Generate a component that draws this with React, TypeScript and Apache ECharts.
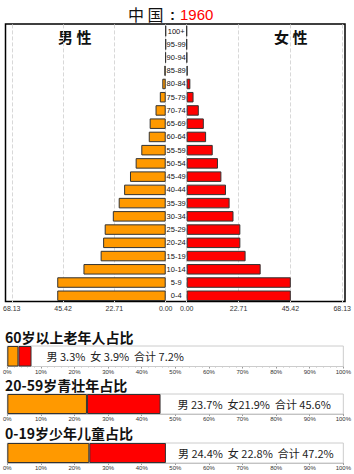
import React, { useEffect, useRef } from "react";
import * as echarts from "echarts";

const ages = ["0-4","5-9","10-14","15-19","20-24","25-29","30-34","35-39","40-44","45-49","50-54","55-59","60-64","65-69","70-74","75-79","80-84","85-89","90-94","95-99","100+"];
const male = [48.0,48.0,36.4,28.8,27.7,27.0,23.4,20.8,18.4,15.8,13.3,10.8,7.5,7.1,4.5,2.6,1.5,0.6,0.1,0,0];
const female = [45.6,45.6,32.4,25.8,23.5,23.5,20.5,18.8,17.2,15.2,13.7,11.4,8.5,7.5,5.3,3.0,1.6,0.4,0.1,0,0];
const axisMax = 68.13;
const axisStep = 22.71;

const groupTitles = ["60岁以上老年人占比", "20-59岁青壮年占比", "0-19岁少年儿童占比"];
const malePct = [3.3, 23.7, 24.4];
const femalePct = [3.9, 21.9, 22.8];
const pctLabels = ["男 3.3%  女 3.9%  合计 7.2%", "男 23.7%  女21.9%  合计 45.6%", "男 24.4%  女 22.8%  合计 47.2%"];

const ORANGE = "#FF9900";
const RED = "#FF0000";
const CJK = "'Noto Sans CJK SC', sans-serif";
const LAT = "'Liberation Sans', Arial, sans-serif";

export default function App() {
  const ref = useRef<HTMLDivElement>(null);
  useEffect(() => {
    const chart = echarts.init(ref.current!, null, { renderer: "svg" });
    const pyrTop = 24.4;
    const pyrH = 278;
    const bottomTops = [346, 394, 443];
    const bottomH = [20.5, 20, 20];

    const grids: any[] = [
      { left: 8.5, width: 157.2, top: pyrTop, height: pyrH },
      { left: 186.7, width: 157.3, top: pyrTop, height: pyrH },
    ];
    bottomTops.forEach((t, i) => grids.push({ left: 7, right: 10, top: t, height: bottomH[i] }));

    const xAxes: any[] = [0, 1].map((i) => ({
      gridIndex: i,
      type: "value",
      inverse: i === 0,
      min: 0,
      max: axisMax,
      interval: axisStep,
      axisLine: { show: false },
      axisTick: { show: false },
      axisLabel: {
        formatter: (v: number) => v.toFixed(2),
        fontSize: 7,
        color: "#333",
        margin: 3,
        fontFamily: LAT,
      },
      splitLine: { show: true, lineStyle: { color: "#d8d8d8", type: "dashed" } },
    }));
    bottomTops.forEach((_, i) =>
      xAxes.push({
        gridIndex: i + 2,
        type: "value",
        min: 0,
        max: 100,
        interval: 10,
        axisLine: { show: true, lineStyle: { color: "#bbb" } },
        axisTick: { show: true, length: 2, lineStyle: { color: "#999" } },
        minorTick: { show: true, splitNumber: 5, length: 1, lineStyle: { color: "#bbb" } },
        axisLabel: { formatter: "{value}%", fontSize: 6, color: "#333", margin: 2, fontFamily: LAT },
        splitLine: { show: false },
      })
    );

    const yAxes: any[] = [
      { gridIndex: 0, type: "category", data: ages, axisLine: { show: false }, axisTick: { show: false }, axisLabel: { show: false } },
      {
        gridIndex: 1,
        type: "category",
        data: ages,
        position: "left",
        axisLine: { show: false },
        axisTick: { show: false },
        axisLabel: { show: true, align: "center", margin: 10.5, fontSize: 7.5, color: "#111", fontFamily: LAT },
      },
    ];
    bottomTops.forEach((_, i) =>
      yAxes.push({ gridIndex: i + 2, type: "category", data: ["x"], show: false })
    );

    const series: any[] = [
      {
        type: "bar",
        xAxisIndex: 0,
        yAxisIndex: 0,
        data: male,
        barWidth: 10.5,
        itemStyle: { color: ORANGE, borderColor: "#333", borderWidth: 1 },
      },
      {
        type: "bar",
        xAxisIndex: 1,
        yAxisIndex: 1,
        data: female,
        barWidth: 10.5,
        itemStyle: { color: RED, borderColor: "#333", borderWidth: 1 },
      },
    ];
    bottomTops.forEach((_, i) => {
      series.push({
        type: "bar",
        xAxisIndex: i + 2,
        yAxisIndex: i + 2,
        stack: "g" + i,
        data: [malePct[i]],
        barWidth: "100%",
        showBackground: true,
        backgroundStyle: { color: "#fff", borderColor: "#ccc", borderWidth: 1 },
        itemStyle: { color: ORANGE, borderColor: "#333", borderWidth: 1 },
      });
      series.push({
        type: "bar",
        xAxisIndex: i + 2,
        yAxisIndex: i + 2,
        stack: "g" + i,
        data: [femalePct[i]],
        barWidth: "100%",
        itemStyle: { color: RED, borderColor: "#333", borderWidth: 1 },
        label: {
          show: true,
          position: "right",
          distance: i === 0 ? 15 : i === 1 ? 17 : 12,
          formatter: () => pctLabels[i],
          fontSize: 11,
          color: "#222",
          fontFamily: CJK,
        },
      });
    });

    const graphic: any[] = [
      {
        type: "rect",
        shape: { x: 5.5, y: 24, width: 339.5, height: 277.5 },
        style: { fill: "none", stroke: "#000", lineWidth: 1.5 },
        silent: true,
      },
      { type: "text", x: 128, y: 14, style: { text: "中 国", font: `16px ${CJK}`, fill: "#111", verticalAlign: "middle" } },
      { type: "text", x: 170, y: 14, style: { text: ":", font: `bold 15px ${LAT}`, fill: "#111", verticalAlign: "middle" } },
      { type: "text", x: 180, y: 14, style: { text: "1960", font: `15px ${LAT}`, fill: RED, verticalAlign: "middle" } },
      { type: "text", x: 58, y: 36, style: { text: "男 性", font: `bold 15px ${CJK}`, fill: "#111", verticalAlign: "middle" } },
      { type: "text", x: 274, y: 36, style: { text: "女 性", font: `bold 15px ${CJK}`, fill: "#111", verticalAlign: "middle" } },
    ];
    const titleYs = [337, 385, 433];
    groupTitles.forEach((t, i) =>
      graphic.push({ type: "text", x: 5, y: titleYs[i], style: { text: t, font: `bold 14px ${CJK}`, fill: "#111", verticalAlign: "middle", lineHeight: 14 } })
    );

    chart.setOption({
      animation: false,
      backgroundColor: "#fff",
      grid: grids,
      xAxis: xAxes,
      yAxis: yAxes,
      series,
      graphic,
    });
    return () => chart.dispose();
  }, []);
  return (
    <div
      ref={ref}
      style={{ position: "absolute", left: 0, top: 0, width: 354, height: 474 }}
    />
  );
}
